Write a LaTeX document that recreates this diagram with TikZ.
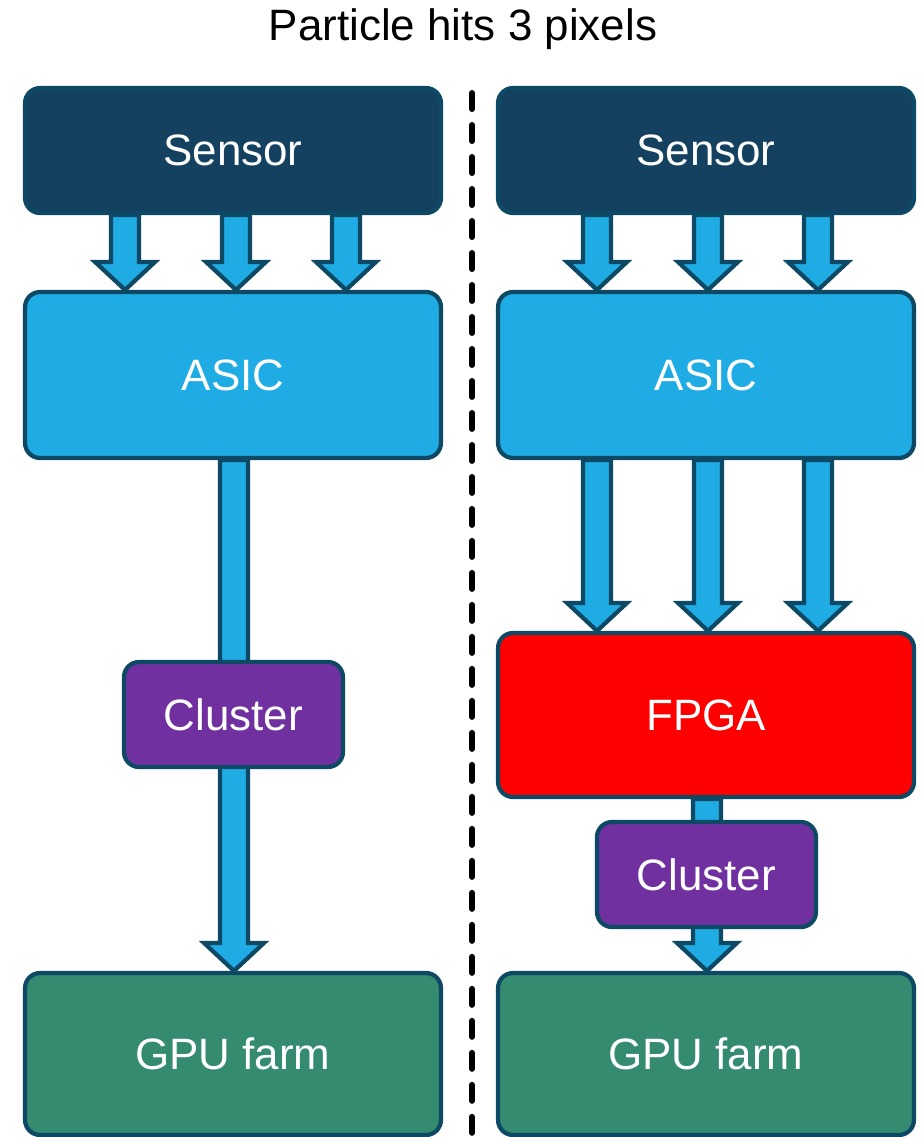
\documentclass[tikz,border=0pt]{standalone}
\usepackage[RGB]{xcolor}
\usepackage{fontspec}
\setmainfont{Liberation Sans}
\usetikzlibrary{calc,backgrounds}
\definecolor{sensor}{RGB}{21,65,96}
\definecolor{edge}{RGB}{13,73,100}
\definecolor{asic}{RGB}{31,171,227}
\definecolor{cluster}{RGB}{112,48,160}
\definecolor{fpga}{RGB}{255,0,0}
\definecolor{gpu}{RGB}{52,139,112}
\tikzset{
  box/.style={draw=edge,line width=2.4pt,rounded corners=0.3cm,text=white,
    font=\fontsize{25}{30}\selectfont,minimum width=8.32cm,minimum height=#1,inner sep=0pt},
  smallbox/.style={box=2.1cm,minimum width=4.38cm,fill=cluster},
  pipe/.style={draw=edge,line width=2.4pt,fill=asic,line join=miter}
}
% block arrow: x shift, from node, to node
\newcommand{\blockarrow}[3]{
\draw[pipe] let \p1=([xshift=#1]#2.south), \p2=(#3.north) in
  (\x1-0.28cm,\y1)--(\x1-0.28cm,\y2+0.56cm)--(\x1-0.6cm,\y2+0.56cm)--(\x1,\y2)
  --(\x1+0.6cm,\y2+0.56cm)--(\x1+0.28cm,\y2+0.56cm)--(\x1+0.28cm,\y1)--cycle;
}
\begin{document}
\begin{tikzpicture}[x=0.02cm,y=-0.02cm]
\useasboundingbox (0,0) rectangle (922,1137);
\node[font=\fontsize{25}{30}\selectfont] (title) at (463,29) {Particle hits 3 pixels};
% left column
\node[box=2.5cm,fill=sensor] (sensorL) at (233,150.5) {Sensor};
\node[box=3.32cm,fill=asic] (asicL) at (233,375) {ASIC};
\node[smallbox] (clusterL) at (233.5,714.5) {Cluster};
\node[box=3.24cm,fill=gpu] (gpuL) at (233,1054) {GPU farm};
% right column
\node[box=2.5cm,fill=sensor] (sensorR) at (706,150.5) {Sensor};
\node[box=3.32cm,fill=asic] (asicR) at (706,375) {ASIC};
\node[box=3.28cm,fill=fpga] (fpgaR) at (706,715) {FPGA};
\node[smallbox] (clusterR) at (706.5,874.5) {Cluster};
\node[box=3.24cm,fill=gpu] (gpuR) at (706,1054) {GPU farm};
\begin{scope}[on background layer]
\foreach \s in {-2.16cm,0.06cm,2.26cm}{
  \blockarrow{\s}{sensorL}{asicL}
  \blockarrow{\s-0.02cm}{sensorR}{asicR}
  \blockarrow{\s-0.02cm}{asicR}{fpgaR}
}
\blockarrow{0.02cm}{asicL}{gpuL}
\blockarrow{0.02cm}{fpgaR}{gpuR}
\end{scope}
% divider
\coordinate (top) at (472,93);
\coordinate (bottom) at (472,1140);
\draw[line width=0.12cm,dash pattern=on 0.32cm off 0.32cm,line cap=round] (top)--(bottom);
\end{tikzpicture}
\end{document}
